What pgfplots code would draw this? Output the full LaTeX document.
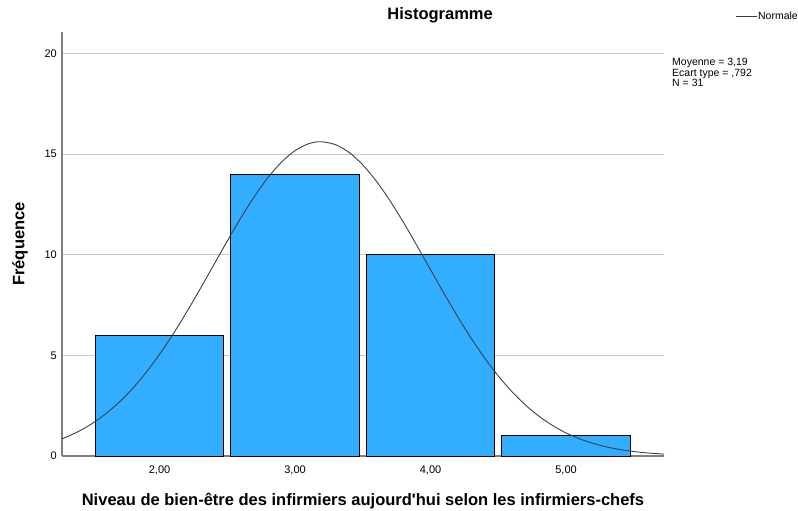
\documentclass[border=0pt]{standalone}
\usepackage{fontspec}
\setmainfont{Liberation Sans}
\usepackage{pgfplots}
\pgfplotsset{compat=1.18}
\definecolor{barblue}{RGB}{51,173,255}
\definecolor{axisgray}{RGB}{128,128,128}
\definecolor{gridgray}{RGB}{200,200,200}
\definecolor{curvegray}{RGB}{64,64,64}

\begin{document}
\begin{tikzpicture}
\begin{axis}[
    scale only axis,
    width=602pt, height=424pt,
    xmin=1.28, xmax=5.723,
    ymin=0, ymax=21.06,
    clip=false,
    axis x line=bottom, axis y line=left,
    axis line style={-, axisgray, line width=1.6pt},
    xtick={2,3,4,5},
    xticklabels={{2,00},{3,00},{4,00},{5,00}},
    ytick={0,5,10,15,20},
    major tick length=0pt,
    ymajorgrids,
    grid style={gridgray, line width=0.9pt},
    tick label style={font=\fontsize{11}{13}\selectfont},
    /pgf/number format/assume math mode=true,
    yticklabel style={inner sep=0pt, xshift=-5pt},
    xticklabel style={inner sep=0pt, yshift=-10pt},
    title={Histogramme},
    title style={at={(axis description cs:0.628,1.0165)}, anchor=base,
        font=\bfseries\fontsize{16.5}{18}\selectfont},
    xlabel={Niveau de bien-être des infirmiers aujourd\textquotesingle hui selon les infirmiers-chefs},
    xlabel style={at={(axis description cs:0.5,-0.1156)}, anchor=base,
        font=\bfseries\fontsize{16.5}{18}\selectfont},
    ylabel={Fréquence},
    ylabel style={at={(axis description cs:-0.0698,0.5)}, anchor=center,
        font=\bfseries\fontsize{16.5}{18}\selectfont},
    legend image code/.code={\draw[#1] (0pt,0pt) -- (21pt,0pt);},
    legend style={at={(axis description cs:1.118,1.0377)}, anchor=west,
        draw=none, fill=none, inner sep=0pt,
        font=\fontsize{10.5}{12}\selectfont,
        nodes={inner sep=1pt}},
]

% histogram counts
\addplot[ybar, bar width=0.949, fill=barblue, draw=black, line width=0.8pt, forget plot]
    coordinates {(2,6) (3,14) (4,10) (5,1)};

% normal curve (moyenne 3,19 ; ecart type ,792 ; N = 31)
\addplot[curvegray, line width=0.9pt, smooth] coordinates {
    (1.28,0.852) (1.3,0.906) (1.4,1.214) (1.5,1.602) (1.6,2.081)
    (1.7,2.660) (1.8,3.347) (1.9,4.144) (2.0,5.049) (2.1,6.055)
    (2.2,7.147) (2.3,8.302) (2.4,9.492) (2.5,10.680) (2.6,11.828)
    (2.7,12.891) (2.8,13.828) (2.9,14.599) (3.0,15.167) (3.1,15.510)
    (3.19,15.610) (3.3,15.460) (3.4,15.071) (3.5,14.459) (3.6,13.652)
    (3.7,12.688) (3.8,11.604) (3.9,10.445) (4.0,9.253) (4.1,8.068)
    (4.2,6.923) (4.3,5.846) (4.4,4.860) (4.5,3.975) (4.6,3.200)
    (4.7,2.536) (4.8,1.977) (4.9,1.518) (5.0,1.146) (5.1,0.852)
    (5.2,0.624) (5.3,0.449) (5.4,0.318) (5.5,0.222) (5.6,0.152)
    (5.723,0.094)
};
\addlegendentry{Normale}

\node[anchor=north west, align=left, inner sep=0pt,
      font=\fontsize{10.5}{10.5}\selectfont]
    at (axis description cs:1.0133,0.9387)
    {Moyenne = 3,19\\Ecart type = ,792\\N = 31};
\end{axis}
\pgfresetboundingbox
\path ([shift={(-62pt,-55pt)}]current axis.south west)
    rectangle ([shift={(134pt,32pt)}]current axis.north east);
\end{tikzpicture}
\end{document}
